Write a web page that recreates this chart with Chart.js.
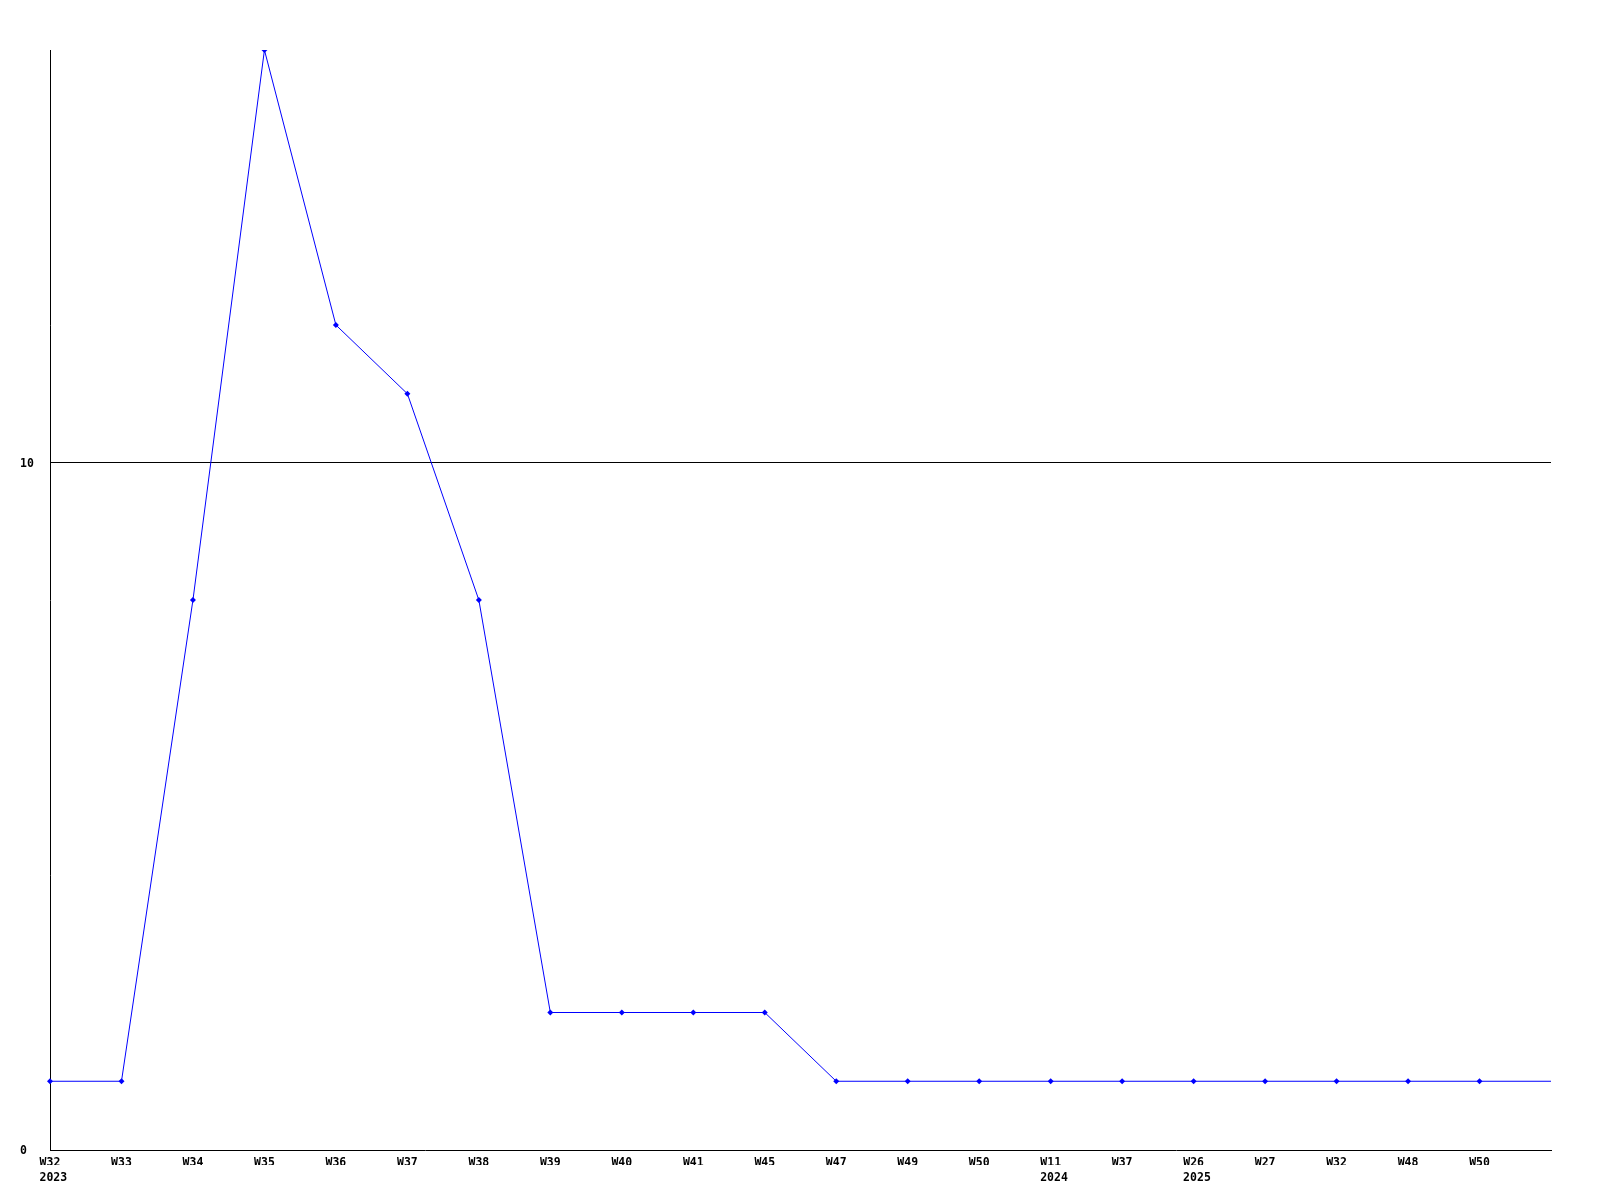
<!DOCTYPE html>
<html>
<head>
<meta charset="utf-8">
<script src="https://cdn.jsdelivr.net/npm/chart.js@4/dist/chart.umd.min.js"></script>
<style>
  html, body { margin: 0; padding: 0; background: #ffffff; }
  #wrap { width: 1600px; height: 1200px; }
</style>
</head>
<body>
<div id="wrap"><canvas id="c" width="1600" height="1200"></canvas></div>
<script>
const weeks = ['W32', 'W33', 'W34', 'W35', 'W36', 'W37', 'W38', 'W39', 'W40', 'W41', 'W45', 'W47', 'W49', 'W50', 'W11', 'W37', 'W26', 'W27', 'W32', 'W48', 'W50', ''];
const years = ['2023', '', '', '', '', '', '', '', '', '', '', '', '', '', '2024', '', '2025', '', '', '', '', ''];
const values = [1, 1, 8, 16, 12, 11, 8, 2, 2, 2, 2, 1, 1, 1, 1, 1, 1, 1, 1, 1, 1, 1];
const yTicks = [0, 10];
const yMax = 16;

const pointRadii = weeks.map(w => w === '' ? 0 : 3);

const font = { family: 'DejaVu Sans Mono', size: 11.5, weight: 'bold', lineHeight: '15px' };

new Chart(document.getElementById('c'), {
  type: 'line',
  data: {
    labels: weeks,
    datasets: [{
      data: values,
      xAxisID: 'x',
      borderColor: '#0000ff',
      backgroundColor: '#0000ff',
      borderWidth: 1,
      pointStyle: 'rectRot',
      pointRadius: pointRadii,
      pointBorderWidth: 0,
      tension: 0,
      fill: false
    }]
  },
  options: {
    responsive: false,
    animation: false,
    devicePixelRatio: 1,
    layout: { padding: { left: 20, top: 50, right: 49, bottom: 0 } },
    plugins: { legend: { display: false }, tooltip: { enabled: false } },
    scales: {
      x: {
        type: 'category',
        position: 'bottom',
        weight: 0,
        offset: false,
        grid: { display: false, drawTicks: false },
        border: { display: true, color: '#000000', width: 1 },
        ticks: {
          color: '#000000',
          font: font,
          padding: 6,
          autoSkip: false,
          maxRotation: 0,
          minRotation: 0
        },
        afterFit: (s) => { s.height = 15; }
      },
      x2: {
        type: 'category',
        position: 'bottom',
        weight: 1,
        labels: years,
        offset: false,
        grid: { display: false, drawTicks: false },
        border: { display: false },
        ticks: {
          color: '#000000',
          font: font,
          padding: 6,
          align: 'start',
          labelOffset: -10.5,
          autoSkip: false,
          maxRotation: 0,
          minRotation: 0
        },
        afterFit: (s) => { s.height = 35; }
      },
      y: {
        min: 0,
        max: yMax,
        afterBuildTicks: (s) => { s.ticks = yTicks.map(v => ({ value: v })); },
        grid: {
          drawTicks: false,
          color: (ctx) => ctx.tick && ctx.tick.value === 0 ? 'rgba(0,0,0,0)' : '#000000',
          lineWidth: 1
        },
        border: { display: true, color: '#000000', width: 1 },
        ticks: {
          color: '#000000',
          font: font,
          crossAlign: 'far',
          labelOffset: 1.5,
          padding: 0
        },
        afterFit: (s) => { s.width = 30; }
      }
    }
  }
});
</script>
</body>
</html>
